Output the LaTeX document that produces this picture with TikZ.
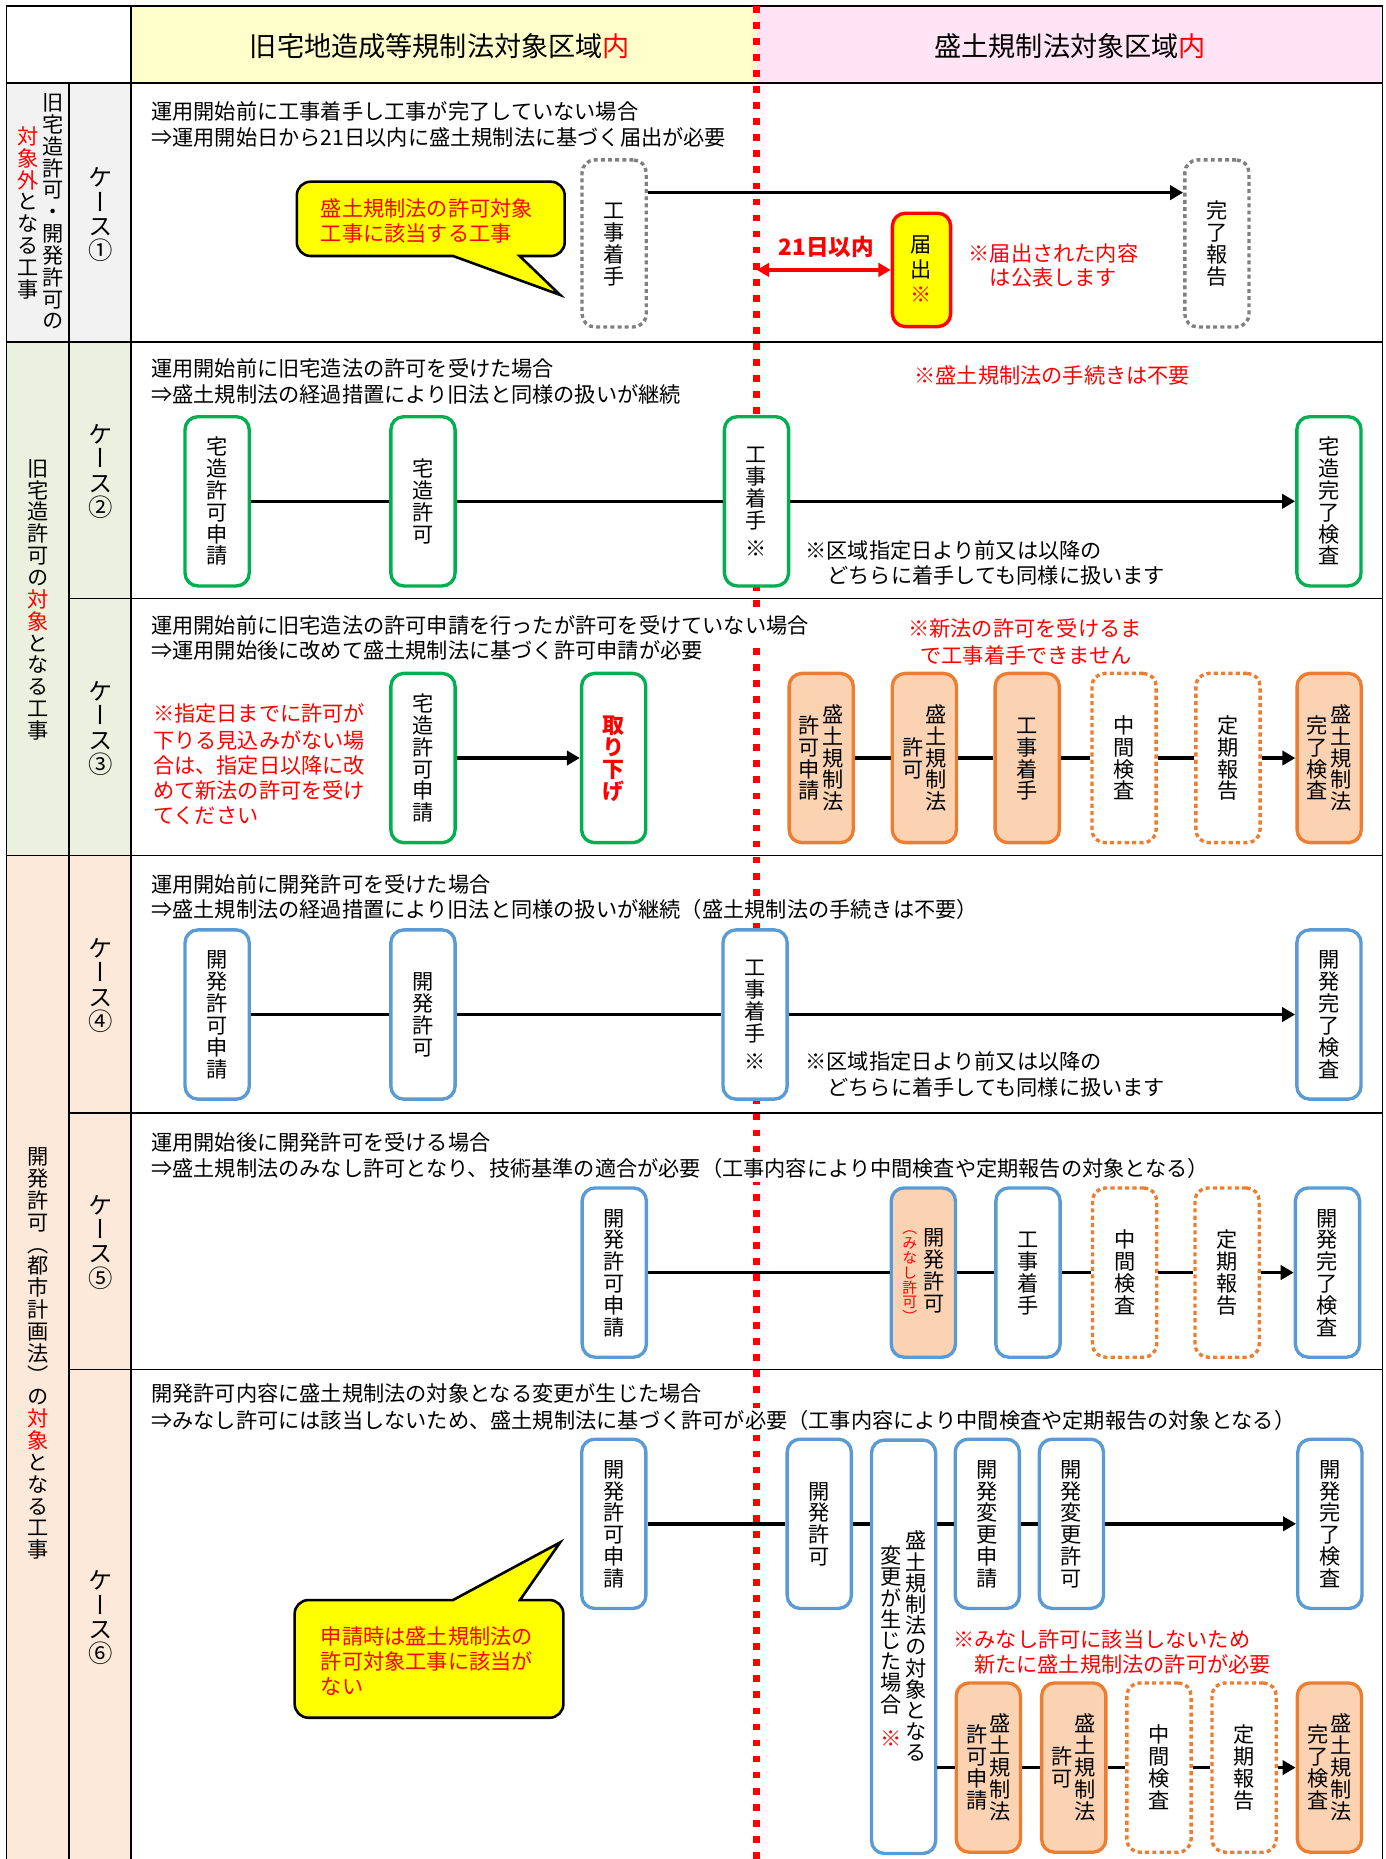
\documentclass[tikz,border=0pt]{standalone}
\usepackage{fontspec}
\setmainfont{Noto Sans CJK JP}
\newfontfamily\jpvert[Script=CJK,RawFeature=+vert]{Noto Sans CJK JP}
\usetikzlibrary{arrows.meta}
\definecolor{cGreen}{HTML}{00B050}
\definecolor{cBlue}{HTML}{5B9BD5}
\definecolor{cOrange}{HTML}{ED7D31}
\definecolor{cPeach}{HTML}{FBD3B3}
\definecolor{cHY}{HTML}{FFFFCC}
\definecolor{cHP}{HTML}{FFE4F6}
\definecolor{cG1}{HTML}{F2F2F2}
\definecolor{cG2}{HTML}{EBF1DE}
\definecolor{cG3}{HTML}{FDE9D9}
\definecolor{cRed}{HTML}{FF0000}
\definecolor{cYellow}{HTML}{FFFF00}
\definecolor{cGrayD}{HTML}{808080}
\makeatletter
\def\vt@end{\vt@end@}
\def\vsp{\vsp@}
\def\vt@loop#1{%
  \ifx\vt@end#1\else
    \ifx\vsp#1\vskip0.3em\relax\else
      \hbox to 1em{\hss\vrule height .88em depth .12em width 0pt\relax#1\hss}%
    \fi
    \expandafter\vt@loop
  \fi}
\newcommand\vtstack[2]{\vbox{\jpvert\baselineskip=#1em\relax\lineskiplimit=-\maxdimen\lineskip=0pt\relax\vt@loop#2\vt@end}}
\newcommand\vcol[2][1.03]{$\vcenter{\vtstack{#1}{#2}}$}
\makeatother
\newcommand\rd[1]{\textcolor{cRed}{#1}}
\newcommand\fsb{\fontsize{10.7pt}{12.8pt}\selectfont}
\newcommand\fsh{\fontsize{13.7pt}{16pt}\selectfont}
\newcommand\fsc{\fontsize{12.3pt}{14pt}\selectfont}
\newcommand\fsd{\fontsize{11.4pt}{13pt}\selectfont\bfseries}
\begin{document}
\begin{tikzpicture}[x=0.6pt,y=-0.6pt,
 tline/.style={line width=0.8pt, draw=black},
 bxbase/.style={rounded corners=6.5pt, line width=1.7pt, fill=white, minimum width=32.4pt, minimum height=85.4pt, inner sep=0pt, font=\fsb},
 gbox/.style={bxbase, draw=cGreen},
 bbox/.style={bxbase, draw=cBlue},
 obox/.style={bxbase, draw=cOrange, fill=cPeach},
 odot/.style={bxbase, draw=cOrange, dash pattern=on 2.1pt off 1.6pt},
 gdot/.style={bxbase, draw=cGrayD, dash pattern=on 2pt off 1.6pt, minimum height=84.3pt},
 ybox/.style={bxbase, draw=cRed, fill=cYellow, minimum width=29.4pt, minimum height=57.2pt},
 vtx/.style={inner sep=0pt, font=\fsb},
 vtc/.style={inner sep=0pt, font=\fsc},
 txt/.style={inner sep=0pt, font=\fsb, anchor=base west},
 ctxt/.style={inner sep=0pt, font=\fsb, anchor=base},
 desc/.style={txt, fill=white, inner ysep=0.6pt, text height=9.4pt, text depth=2.2pt},
 ln/.style={line width=1.7pt},
 arr/.style={line width=1.7pt, -{Triangle[length=6.6pt,width=7.2pt]}},
 rarr/.style={line width=1.8pt, draw=cRed, {Triangle[length=6.2pt,width=6.8pt]}-{Triangle[length=6.2pt,width=6.8pt]}},
 callout/.style={fill=cYellow, draw=black, line width=1.3pt},
 redl/.style={draw=cRed, line width=3.4pt, dash pattern=on 3.4pt off 4.7pt}
]
\useasboundingbox (0,0) rectangle (1165,1563.4);
% fills
\fill[cHY] (110,5) rectangle (636.5,70);
\fill[cHP] (636.5,5) rectangle (1162.6,70);
\fill[cG1] (5.6,70) rectangle (110,287.4);
\fill[cG2] (5.6,287.4) rectangle (110,719.6);
\fill[cG3] (5.6,719.6) rectangle (110,1580);
% table lines
\draw[tline] (5.6,1580) -- (5.6,5) -- (1162.6,5) -- (1162.6,1580);
\draw[tline] (5.6,70) -- (1162.6,70);
\draw[tline] (5.6,287.4) -- (1162.6,287.4);
\draw[tline] (58.2,503.2) -- (1162.6,503.2);
\draw[tline] (5.6,719.6) -- (1162.6,719.6);
\draw[tline] (58.2,935.8) -- (1162.6,935.8);
\draw[tline] (58.2,1151.7) -- (1162.6,1151.7);
\draw[tline] (58.2,70) -- (58.2,1580);
\draw[tline] (110,5) -- (110,1580);
% red boundary
\draw[redl] (636.5,5) -- (636.5,1580);
% header
\node[inner sep=0pt, font=\fsh, anchor=base] (h1) at (370,47.7) {旧宅地造成等規制法対象区域\rd{内}};
\node[inner sep=0pt, font=\fsh, anchor=base] (h2) at (900,47.7) {盛土規制法対象区域\rd{内}};
% group column
\node[vtx] (g1a) at (44.3,178) {\vcol{旧宅造許可・開発許可の}};
\node[vtx] (g1b) at (23.3,179) {\vcol{{\rd{対}}{\rd{象}}{\rd{外}}となる工事}};
\node[vtx] (g2t) at (31.9,504) {\vcol{旧宅造許可の{\rd{対}}{\rd{象}}となる工事}};
\node[vtx] (g3t) at (31.9,1138) {\vcol{開発許可（都市計画法）の{\rd{対}}{\rd{象}}となる工事}};
% case column
\node[vtc] (k1l) at (84.5,180) {\vcol[1.0]{ケース①}};
\node[vtc] (k2l) at (84.5,396) {\vcol[1.0]{ケース②}};
\node[vtc] (k3l) at (84.5,612) {\vcol[1.0]{ケース③}};
\node[vtc] (k4l) at (84.5,828) {\vcol[1.0]{ケース④}};
\node[vtc] (k5l) at (84.5,1044) {\vcol[1.0]{ケース⑤}};
\node[vtc] (k6l) at (84.5,1360) {\vcol[1.0]{ケース⑥}};
% descriptions
\node[desc] (d1a) at (126.9,100.7) {運用開始前に工事着手し工事が完了していない場合};
\node[desc] (d1b) at (126.9,122.3) {⇒運用開始日から21日以内に盛土規制法に基づく届出が必要};
\node[desc] (d2a) at (126.9,316.6) {運用開始前に旧宅造法の許可を受けた場合};
\node[desc] (d2b) at (126.9,338.2) {⇒盛土規制法の経過措置により旧法と同様の扱いが継続};
\node[desc] (d3a) at (126.9,532.5) {運用開始前に旧宅造法の許可申請を行ったが許可を受けていない場合};
\node[desc] (d3b) at (126.9,554) {⇒運用開始後に改めて盛土規制法に基づく許可申請が必要};
\node[desc] (d4a) at (126.9,750.2) {運用開始前に開発許可を受けた場合};
\node[desc] (d4b) at (126.9,771.5) {⇒盛土規制法の経過措置により旧法と同様の扱いが継続（盛土規制法の手続きは不要）};
\node[desc] (d5a) at (126.9,967.3) {運用開始後に開発許可を受ける場合};
\node[desc] (d5b) at (126.9,989.1) {⇒盛土規制法のみなし許可となり、技術基準の適合が必要（工事内容により中間検査や定期報告の対象となる）};
\node[desc] (d6a) at (126.9,1178.6) {開発許可内容に盛土規制法の対象となる変更が生じた場合};
\node[desc] (d6b) at (126.9,1201.1) {⇒みなし許可には該当しないため、盛土規制法に基づく許可が必要（工事内容により中間検査や定期報告の対象となる）};
% ===== case 1
\draw[callout] (320,215.3) -- (381,215.3) -- (471,248) -- (437,215.3) [rounded corners=7pt] -- (474.9,215.3) -- (474.9,152.8) -- (249.6,152.8) -- (249.6,215.3) -- cycle;
\node[txt, text=cRed] (c1a) at (269.5,181.8) {盛土規制法の許可対象};
\node[txt, text=cRed] (c1b) at (269.5,202.8) {工事に該当する工事};
\node[gdot] (k1) at (516.5,204.75) {\vcol{工事着手}};
\node[gdot] (r1) at (1023.4,204.75) {\vcol{完了報告}};
\node[ybox] (t1) at (775,227) {\vcol[1.18]{届出{\rd{※}}}};
\coordinate (rl1) at (636.5,227);
\draw[arr] ([yshift=25.65pt]k1.east) -- ([yshift=25.65pt]r1.west);
\draw[rarr] (rl1) -- (t1.west);
\node[inner sep=0pt, font=\fsd, text=cRed, anchor=base] (n21) at (694.8,214.6) {21日以内};
\node[ctxt, text=cRed] (n1a) at (886,219.8) {※届出された内容};
\node[ctxt, text=cRed] (n1b) at (886,240.3) {は公表します};
% ===== case 2
\node[txt, text=cRed] (n2) at (768.7,322.2) {※盛土規制法の手続きは不要};
\node[gbox] (a2) at (182.6,421.6) {\vcol{宅造許可申請}};
\node[gbox] (b2) at (355.7,421.6) {\vcol{宅造許可}};
\node[gbox] (c2) at (636.2,421.6) {\vcol{工事着手\vsp※}};
\node[gbox] (e2) at (1117.6,421.6) {\vcol{宅造完了検査}};
\draw[ln] (a2) -- (b2);
\draw[ln] (b2) -- (c2);
\draw[arr] (c2) -- (e2);
\node[txt] (n2b) at (677,469.3) {※区域指定日より前又は以降の};
\node[txt] (n2c) at (695.6,490.4) {どちらに着手しても同様に扱います};
% ===== case 3
\node[ctxt, text=cRed] (n3a) at (862,535.3) {※新法の許可を受けるま};
\node[ctxt, text=cRed] (n3b) at (863,557.8) {で工事着手できません};
\node[txt, text=cRed] (n3l1) at (128.4,606.7) {※指定日までに許可が};
\node[txt, text=cRed] (n3l2) at (128.4,629.2) {下りる見込みがない場};
\node[txt, text=cRed] (n3l3) at (128.4,650.2) {合は、指定日以降に改};
\node[txt, text=cRed] (n3l4) at (128.4,671.2) {めて新法の許可を受け};
\node[txt, text=cRed] (n3l5) at (128.4,692.2) {てください};
\node[gbox] (a3) at (355.7,637.5) {\vcol{宅造許可申請}};
\node[gbox] (b3) at (516.1,637.5) {\bfseries\color{cRed}\fontsize{11.1pt}{11.1pt}\selectfont\vcol[1.0]{取り下げ}};
\node[obox] (c3) at (690.6,637.5) {\vcol{許可申請}\hspace{1pt}\vcol{盛土規制法}};
\node[obox] (d3) at (777.4,637.5) {\vcol{許可}\hspace{1pt}\vcol{盛土規制法}};
\node[obox] (e3) at (863.9,637.5) {\vcol{工事着手}};
\node[odot] (f3) at (945.3,637.5) {\vcol{中間検査}};
\node[odot] (p3) at (1032.7,637.5) {\vcol{定期報告}};
\node[obox] (q3) at (1117.8,637.5) {\vcol{完了検査}\hspace{1pt}\vcol{盛土規制法}};
\draw[arr] (a3) -- (b3);
\draw[ln] (c3) -- (d3);
\draw[ln] (d3) -- (e3);
\draw[ln] (e3) -- (f3);
\draw[ln] (f3) -- (p3);
\draw[arr] (p3) -- (q3);
% ===== case 4
\node[bbox] (a4) at (182.6,853.2) {\vcol{開発許可申請}};
\node[bbox] (b4) at (355.7,853.2) {\vcol{開発許可}};
\node[bbox] (c4) at (635,853.2) {\vcol{工事着手\vsp※}};
\node[bbox] (e4) at (1117.6,853.2) {\vcol{開発完了検査}};
\draw[ln] (a4) -- (b4);
\draw[ln] (b4) -- (c4);
\draw[arr] (c4) -- (e4);
\node[txt] (n4b) at (677,899.8) {※区域指定日より前又は以降の};
\node[txt] (n4c) at (695.6,921) {どちらに着手しても同様に扱います};
% ===== case 5
\node[bbox] (a5) at (516.6,1070.2) {\vcol{開発許可申請}};
\node[bbox, fill=cPeach] (b5) at (776.5,1070.2) {{\color{cRed}\fontsize{7.5pt}{7.5pt}\selectfont\vcol[1.0]{（みなし許可）}}\hspace{3pt}\vcol{開発許可}};
\node[bbox] (c5) at (864.5,1070.2) {\vcol{工事着手}};
\node[odot] (d5) at (945.8,1070.2) {\vcol{中間検査}};
\node[odot] (e5) at (1032,1070.2) {\vcol{定期報告}};
\node[bbox] (f5) at (1116.4,1070.2) {\vcol{開発完了検査}};
\draw[ln] (a5) -- (b5);
\draw[ln] (b5) -- (c5);
\draw[ln] (c5) -- (d5);
\draw[ln] (d5) -- (e5);
\draw[arr] (e5) -- (f5);
% ===== case 6
\draw[callout] (320,1345.6) -- (381,1345.6) -- (471.1,1297.1) -- (437.3,1345.6) [rounded corners=7pt] -- (473.8,1345.6) -- (473.8,1444.6) -- (247.8,1444.6) -- (247.8,1345.6) -- cycle;
\node[txt, text=cRed] (c6a) at (269.5,1382.8) {申請時は盛土規制法の};
\node[txt, text=cRed] (c6b) at (269.5,1404.3) {許可対象工事に該当が};
\node[txt, text=cRed] (c6c) at (269.5,1425.3) {ない};
\node[bbox] (a6) at (516.2,1281.5) {\vcol{開発許可申請}};
\node[bbox] (b6) at (689,1281.5) {\vcol{開発許可}};
\node[bbox, minimum height=208.6pt] (t6) at (759.9,1384.9) {\vcol[1.0]{変更が生じた場合\vsp\vsp{\rd{※}}}\hspace{1.5pt}\vcol[1.0]{盛土規制法の対象となる}};
\node[bbox] (c6) at (830.3,1281.5) {\vcol{開発変更申請}};
\node[bbox] (d6) at (901,1281.5) {\vcol{開発変更許可}};
\node[bbox] (e6) at (1118.4,1281.5) {\vcol{開発完了検査}};
\draw[ln] (a6) -- (b6);
\draw[ln] (b6) -- (b6.east -| t6.west);
\draw[ln] (t6.east |- c6.west) -- (c6);
\draw[ln] (c6) -- (d6);
\draw[arr] (d6) -- (e6);
\node[txt, text=cRed] (n6a) at (801.5,1385.5) {※みなし許可に該当しないため};
\node[txt, text=cRed] (n6b) at (818.8,1406.2) {新たに盛土規制法の許可が必要};
\node[obox] (m1) at (831.2,1486.5) {\vcol{許可申請}\hspace{1pt}\vcol{盛土規制法}};
\node[obox] (m2) at (903,1486.5) {\vcol{許可}\hspace{1pt}\vcol{盛土規制法}};
\node[odot] (m3) at (974.7,1486.5) {\vcol{中間検査}};
\node[odot] (m4) at (1046.3,1486.5) {\vcol{定期報告}};
\node[obox] (m5) at (1118,1486.5) {\vcol{完了検査}\hspace{1pt}\vcol{盛土規制法}};
\draw[ln] (t6.east |- m1.west) -- (m1);
\draw[ln] (m1) -- (m2);
\draw[ln] (m2) -- (m3);
\draw[ln] (m3) -- (m4);
\draw[arr] (m4) -- (m5);
\end{tikzpicture}
\end{document}
